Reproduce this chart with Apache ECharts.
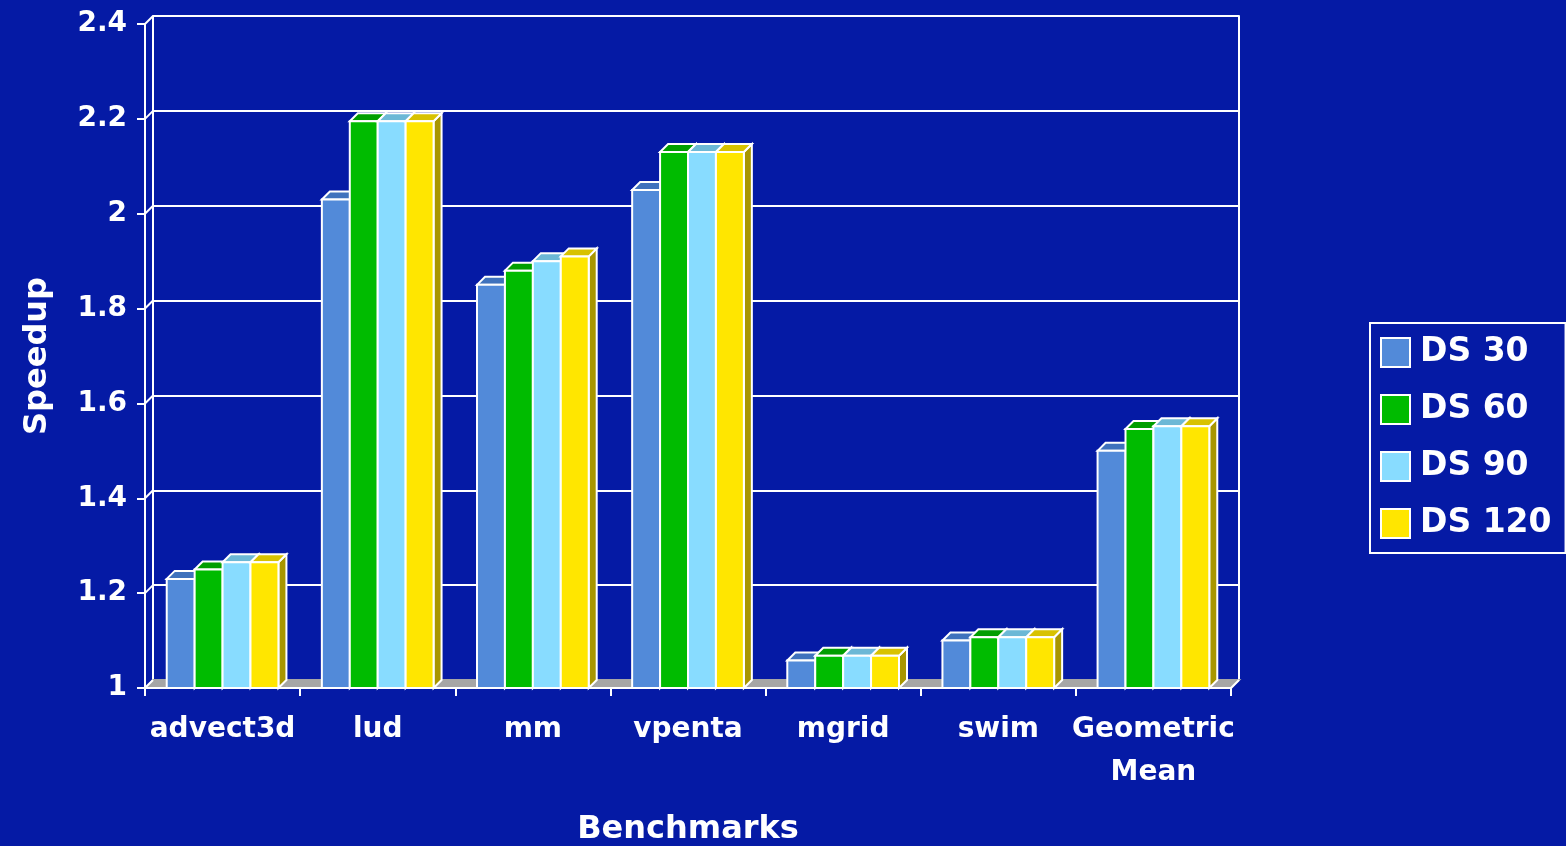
<!DOCTYPE html>
<html>
<head>
<meta charset="utf-8">
<title>Speedup by benchmark</title>
<script src="https://cdn.jsdelivr.net/npm/echarts@6/dist/echarts.min.js"></script>
<style>
  html, body { margin: 0; padding: 0; background: #051aa5; }
  #chart { width: 1566px; height: 846px; }
</style>
</head>
<body>
<div id="chart"></div>
<script>
// Benchmarks and measured speedups per DS setting
const categories = ['advect3d', 'lud', 'mm', 'vpenta', 'mgrid', 'swim', 'Geometric\nMean'];
const seriesNames = ['DS 30', 'DS 60', 'DS 90', 'DS 120'];
const ds30  = [1.23,  2.03,  1.85, 2.05, 1.058, 1.10,  1.50];
const ds60  = [1.25,  2.195, 1.88, 2.13, 1.068, 1.107, 1.546];
const ds90  = [1.265, 2.195, 1.90, 2.13, 1.068, 1.107, 1.552];
const ds120 = [1.265, 2.195, 1.91, 2.13, 1.068, 1.107, 1.552];
const Y_MIN = 1, Y_MAX = 2.4, Y_STEP = 0.2;
const yTicks = [1, 1.2, 1.4, 1.6, 1.8, 2, 2.2, 2.4];

// Styling
const BG = '#051aa5';
const FRONT = ['#528ad9', '#00bb00', '#88dcff', '#ffe600'];
const TOP   = ['#3f72bd', '#009e00', '#6cb8d6', '#d8c200'];
const SIDE  = ['#3a5f9c', '#008000', '#5c9ab4', '#a89600'];
const DEPTH = 8;          // oblique offset of the back wall (px)
const BAR_FRAC = 0.18;    // each bar's share of a category band
const FONT = 'DejaVu Sans';

const allSeries = [ds30, ds60, ds90, ds120];

function barRenderer(k) {
  return function (params, api) {
    const cat = api.value(0);
    const val = api.value(1);
    const base = api.coord([cat, Y_MIN]);
    const top = api.coord([cat, val]);
    const band = api.size([1, 0])[0];
    const bw = band * BAR_FRAC;
    const x0 = base[0] + (k - 1.5) * bw - bw / 2;
    const x1 = x0 + bw;
    const yt = top[1], yb = base[1];
    const d = DEPTH;
    const stroke = { stroke: '#ffffff', lineWidth: 2, lineJoin: 'miter' };
    return {
      type: 'group',
      children: [
        { type: 'polygon',
          shape: { points: [[x1, yt], [x1 + d, yt - d], [x1 + d, yb - d], [x1, yb]] },
          style: Object.assign({ fill: SIDE[k] }, stroke) },
        { type: 'polygon',
          shape: { points: [[x0, yt], [x0 + d, yt - d], [x1 + d, yt - d], [x1, yt]] },
          style: Object.assign({ fill: TOP[k] }, stroke) },
        { type: 'rect',
          shape: { x: x0, y: yt, width: bw, height: yb - yt },
          style: Object.assign({ fill: FRONT[k] }, stroke) }
      ]
    };
  };
}

// Grey floor plus the right-hand floor edge
function floorRenderer(params, api) {
  const band = api.size([1, 0])[0];
  const first = api.coord([0, Y_MIN]);
  const last = api.coord([categories.length - 1, Y_MIN]);
  const left = first[0] - band / 2;
  const right = last[0] + band / 2;
  const y = first[1];
  const d = DEPTH;
  return {
    type: 'group',
    children: [
      { type: 'polygon',
        shape: { points: [[left, y], [left + d, y - d], [right + d, y - d], [right, y]] },
        style: { fill: '#a6a6a6', stroke: '#a6a6a6', lineWidth: 2 } },
      { type: 'line',
        shape: { x1: right, y1: y, x2: right + d, y2: y - d },
        style: { stroke: '#ffffff', lineWidth: 2 } }
    ]
  };
}

// Diagonals joining each front tick to the back wall
function connectorRenderer(params, api) {
  const band = api.size([1, 0])[0];
  const p = api.coord([0, api.value(0)]);
  const x = p[0] - band / 2;
  return {
    type: 'line',
    shape: { x1: x, y1: p[1], x2: x + DEPTH, y2: p[1] - DEPTH },
    style: { stroke: '#ffffff', lineWidth: 2 }
  };
}

const chart = echarts.init(document.getElementById('chart'));

const frontGrid = { left: 145, top: 24, width: 1086, height: 664, containLabel: false, outerBoundsMode: 'none' };
const backGrid = { left: 145 + DEPTH, top: 24 - DEPTH, width: 1086, height: 664, containLabel: false, outerBoundsMode: 'none' };

const option = {
  backgroundColor: BG,
  animation: false,
  textStyle: { fontFamily: FONT },
  grid: [frontGrid, backGrid],
  legend: {
    left: 1370, top: 323,
    orient: 'vertical',
    backgroundColor: BG,
    borderColor: '#ffffff', borderWidth: 2,
    padding: [13, 14, 13, 10],
    itemWidth: 29, itemHeight: 29, itemGap: 24,
    icon: 'rect',
    itemStyle: { borderColor: '#ffffff', borderWidth: 2 },
    textStyle: { color: '#ffffff', fontFamily: FONT, fontWeight: 'bold', fontSize: 33, lineHeight: 32, padding: [0, 0, 0, 5] },
    data: seriesNames.map((n, i) => ({ name: n, itemStyle: { color: FRONT[i] } }))
  },
  xAxis: [
    {
      type: 'category', gridIndex: 0, data: categories, z: 5,
      name: 'Benchmarks', nameLocation: 'middle', nameGap: 126,
      nameTextStyle: { color: '#ffffff', fontFamily: FONT, fontWeight: 'bold', fontSize: 32 },
      axisLine: { lineStyle: { color: '#ffffff', width: 2 } },
      axisTick: { show: true, length: 8, lineStyle: { color: '#ffffff', width: 2 } },
      axisLabel: { color: '#ffffff', fontFamily: FONT, fontWeight: 'bold', fontSize: 28, margin: 20, lineHeight: 43, interval: 0 },
      splitLine: { show: false }
    },
    {
      type: 'category', gridIndex: 1, data: categories,
      axisLine: { show: false }, axisTick: { show: false }, axisLabel: { show: false }, splitLine: { show: false }
    }
  ],
  yAxis: [
    {
      type: 'value', gridIndex: 0, min: Y_MIN, max: Y_MAX, interval: Y_STEP, z: 5,
      name: 'Speedup', nameLocation: 'middle', nameGap: 91, nameRotate: 90,
      nameTextStyle: { color: '#ffffff', fontFamily: FONT, fontWeight: 'bold', fontSize: 32 },
      axisLine: { show: true, lineStyle: { color: '#ffffff', width: 2 } },
      axisTick: { show: true, length: 8, lineStyle: { color: '#ffffff', width: 2 } },
      axisLabel: { color: '#ffffff', fontFamily: FONT, fontWeight: 'bold', fontSize: 28, margin: 18, padding: [8, 0, 0, 0] },
      splitLine: { show: false }
    },
    {
      type: 'value', gridIndex: 1, min: Y_MIN, max: Y_MAX, interval: Y_STEP,
      axisLine: { show: true, lineStyle: { color: '#ffffff', width: 2 } },
      axisTick: { show: false }, axisLabel: { show: false },
      splitLine: { show: true, lineStyle: { color: '#ffffff', width: 2 } }
    },
    {
      type: 'value', gridIndex: 1, min: Y_MIN, max: Y_MAX, interval: Y_STEP, position: 'right',
      axisLine: { show: true, lineStyle: { color: '#ffffff', width: 2 } },
      axisTick: { show: false }, axisLabel: { show: false }, splitLine: { show: false }
    }
  ],
  series: [
    {
      type: 'custom', name: 'floor', xAxisIndex: 0, yAxisIndex: 0, z: 3, silent: true,
      renderItem: floorRenderer, data: [[0, Y_MIN]], encode: { x: 0, y: 1 }
    },
    {
      type: 'custom', name: 'connectors', xAxisIndex: 0, yAxisIndex: 0, z: 6, silent: true,
      renderItem: connectorRenderer, data: yTicks.map(v => [v]), encode: { y: 0 }
    }
  ].concat(allSeries.map((vals, k) => ({
    type: 'custom',
    name: seriesNames[k],
    xAxisIndex: 0, yAxisIndex: 0, z: 4,
    itemStyle: { color: FRONT[k] },
    renderItem: barRenderer(k),
    encode: { x: 0, y: 1 },
    data: vals.map((v, i) => [i, v])
  })))
};

chart.setOption(option);
</script>
</body>
</html>
